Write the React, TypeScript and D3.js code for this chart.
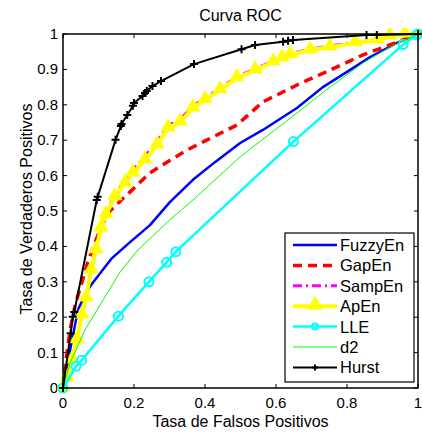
import React from "react";
import * as d3 from "d3";

type P = [number, number];

const hurst: P[] = [
  [0, 0], [0.0217, 0.155], [0.0273, 0.201], [0.0318, 0.215], [0.095, 0.531], [0.0977, 0.54],
  [0.148, 0.701], [0.163, 0.74], [0.165, 0.746], [0.181, 0.771], [0.197, 0.797], [0.2, 0.805],
  [0.224, 0.825], [0.231, 0.833], [0.236, 0.839], [0.252, 0.853], [0.276, 0.867], [0.369, 0.915],
  [0.503, 0.957], [0.541, 0.969], [0.62, 0.978], [0.634, 0.981], [0.648, 0.983], [0.855, 0.997],
  [0.884, 0.997], [1, 1],
];

const lle: P[] = [
  [0, 0], [0.0366, 0.0613], [0.0527, 0.0785], [0.156, 0.203], [0.242, 0.3], [0.292, 0.355],
  [0.318, 0.385], [0.649, 0.696], [0.958, 0.97], [0.996, 0.997], [1, 1],
];

const apen: P[] = [
  [0, 0], [0.011, 0.028], [0.025, 0.079], [0.039, 0.136], [0.053, 0.206], [0.065, 0.254],
  [0.079, 0.333], [0.093, 0.39], [0.107, 0.452], [0.121, 0.489], [0.146, 0.54], [0.175, 0.579],
  [0.197, 0.607], [0.231, 0.644], [0.265, 0.686], [0.296, 0.734], [0.33, 0.751], [0.366, 0.791],
  [0.4, 0.814], [0.442, 0.842], [0.49, 0.876], [0.541, 0.898], [0.592, 0.921], [0.617, 0.932],
  [0.64, 0.941], [0.696, 0.955], [0.752, 0.963], [0.823, 0.975], [0.885, 0.983], [0.921, 0.994],
  [0.963, 1.0], [1, 1],
];

const sampen: P[] = [
  [0, 0], [0.012, 0.032], [0.026, 0.084], [0.04, 0.141], [0.054, 0.211], [0.066, 0.259],
  [0.08, 0.338], [0.094, 0.395], [0.108, 0.457], [0.122, 0.495], [0.147, 0.547], [0.176, 0.588],
  [0.198, 0.617], [0.232, 0.656], [0.266, 0.697], [0.297, 0.742], [0.331, 0.759], [0.367, 0.797],
  [0.401, 0.819], [0.443, 0.847], [0.491, 0.88], [0.542, 0.902], [0.593, 0.924], [0.64, 0.944],
  [0.696, 0.957], [0.752, 0.966], [0.823, 0.977], [0.885, 0.985], [0.963, 1.0], [1, 1],
];

const gapen: P[] = [
  [0, 0], [0.0085, 0.079], [0.02, 0.164], [0.034, 0.234], [0.051, 0.291], [0.07, 0.356],
  [0.093, 0.418], [0.113, 0.466], [0.132, 0.5], [0.189, 0.554], [0.245, 0.608], [0.293, 0.638],
  [0.349, 0.672], [0.406, 0.701], [0.49, 0.743], [0.563, 0.808], [0.659, 0.856], [0.752, 0.898],
  [0.845, 0.941], [0.941, 0.977], [1, 1],
];

const fuzzyen: P[] = [
  [0, 0], [0.02, 0.107], [0.042, 0.22], [0.065, 0.271], [0.085, 0.299], [0.138, 0.367],
  [0.189, 0.412], [0.245, 0.46], [0.301, 0.525], [0.366, 0.588], [0.428, 0.638], [0.499, 0.692],
  [0.563, 0.729], [0.659, 0.791], [0.732, 0.85], [0.8, 0.893], [0.865, 0.935], [0.941, 0.975],
  [1, 1],
];

const d2: P[] = [
  [0, 0], [0.02, 0.071], [0.062, 0.164], [0.113, 0.249], [0.161, 0.328], [0.211, 0.39],
  [0.301, 0.475], [0.366, 0.531], [0.499, 0.653], [0.659, 0.777], [0.752, 0.85], [0.845, 0.918],
  [0.921, 0.963], [1, 1],
];

const xTicks = [0, 0.2, 0.4, 0.6, 0.8, 1];
const yTicks = [0, 0.1, 0.2, 0.3, 0.4, 0.5, 0.6, 0.7, 0.8, 0.9, 1];
const legendNames = ["FuzzyEn", "GapEn", "SampEn", "ApEn", "LLE", "d2", "Hurst"];

const W = 422;
const H = 433;
const L = 63, R = 418, T = 34, B = 388;
const FONT = "'Liberation Sans', Arial, Helvetica, sans-serif";

export default function App() {
  const x = d3.scaleLinear().domain([0, 1]).range([L, R]);
  const y = d3.scaleLinear().domain([0, 1]).range([B, T]);
  const line = d3.line<P>().x((d) => x(d[0])).y((d) => y(d[1]));
  const tri = d3.symbol().type(d3.symbolTriangle).size(60)()!;
  const triLeg = d3.symbol().type(d3.symbolTriangle).size(70)()!;
  const fmt = (v: number) => (v === 0 || v === 1 ? String(v) : d3.format(".1f")(v));

  const series = [
    { name: "FuzzyEn", data: fuzzyen, color: "#0000ff", w: 2.5, dash: "", marker: "" },
    { name: "GapEn", data: gapen, color: "#ff0000", w: 3.5, dash: "9,6", marker: "" },
    { name: "SampEn", data: sampen, color: "#ff00ff", w: 3, dash: "9,4,2,4", marker: "" },
    { name: "ApEn", data: apen, color: "#ffff00", w: 4, dash: "", marker: "tri" },
    { name: "LLE", data: lle, color: "#00ffff", w: 2.5, dash: "", marker: "circle" },
    { name: "d2", data: d2, color: "#00ff00", w: 1, dash: "", marker: "" },
    { name: "Hurst", data: hurst, color: "#000000", w: 2, dash: "", marker: "plus" },
  ];

  const drawMarker = (m: string, color: string, cx: number, cy: number, key: string | number, small = false) => {
    if (m === "tri")
      return <path key={key} d={small ? triLeg : tri} transform={`translate(${cx},${cy - 1})`} fill={color} stroke={color} strokeWidth={2} />;
    if (m === "circle")
      return <circle key={key} cx={cx} cy={cy} r={small ? 3 : 4.5} fill="none" stroke={color} strokeWidth={2} />;
    if (m === "plus") {
      const s = small ? 3 : 4;
      return (
        <path key={key} d={`M${cx - s},${cy}H${cx + s}M${cx},${cy - s}V${cy + s}`} stroke={color} strokeWidth={2} fill="none" />
      );
    }
    return null;
  };

  const legX = 285, legY = 233, legW = 129, legH = 149;

  return (
    <svg width={W} height={H} style={{ position: "absolute", left: 0, top: 0, background: "#fff" }} fontFamily={FONT}>
      <rect x={0} y={0} width={W} height={H} fill="#fff" />
      <defs>
        <clipPath id="clip">
          <rect x={L - 6} y={T - 6} width={R - L + 12} height={B - T + 12} />
        </clipPath>
      </defs>
      {xTicks.map((t) => (
        <g key={"xt" + t}>
          <line x1={x(t)} x2={x(t)} y1={B} y2={B - 4} stroke="#000" />
          <line x1={x(t)} x2={x(t)} y1={T} y2={T + 4} stroke="#000" />
          <text x={x(t)} y={B + 20} fontSize={15} textAnchor="middle">{fmt(t)}</text>
        </g>
      ))}
      {yTicks.map((t) => (
        <g key={"yt" + t}>
          <line x1={L} x2={L + 4} y1={y(t)} y2={y(t)} stroke="#000" />
          <line x1={R} x2={R - 4} y1={y(t)} y2={y(t)} stroke="#000" />
          <text x={L - 5} y={y(t) + 5} fontSize={15} textAnchor="end">{fmt(t)}</text>
        </g>
      ))}
      <g clipPath="url(#clip)">
        {series.map((s) => (
          <g key={s.name}>
            <path d={line(s.data)!} fill="none" stroke={s.color} strokeWidth={s.w} strokeDasharray={s.dash || undefined} strokeLinejoin="round" />
            {s.marker && s.data.map((d, i) => drawMarker(s.marker, s.color, x(d[0]), y(d[1]), i))}
          </g>
        ))}
      </g>
      <rect x={L} y={T} width={R - L} height={B - T} fill="none" stroke="#000" strokeWidth={1.5} />
      <text x={(L + R) / 2} y={21} fontSize={16} textAnchor="middle">Curva ROC</text>
      <text x={(L + R) / 2} y={427} fontSize={16} textAnchor="middle">Tasa de Falsos Positivos</text>
      <text transform={`translate(32,${(T + B) / 2 - 2}) rotate(-90)`} fontSize={16} textAnchor="middle">Tasa de Verdaderos Positivos</text>
      <rect x={legX} y={legY} width={legW} height={legH} fill="#fff" stroke="#000" strokeWidth={1.2} />
      {legendNames.map((n, i) => {
        const s = series.find((q) => q.name === n)!;
        const ly = legY + 12 + i * 20.4;
        return (
          <g key={"lg" + n}>
            <line x1={293} x2={337} y1={ly} y2={ly} stroke={s.color} strokeWidth={s.w} strokeDasharray={s.dash || undefined} />
            {drawMarker(s.marker, s.color, 315, ly, "m", true)}
            <text x={340} y={ly + 6} fontSize={16.5}>{n}</text>
          </g>
        );
      })}
    </svg>
  );
}
